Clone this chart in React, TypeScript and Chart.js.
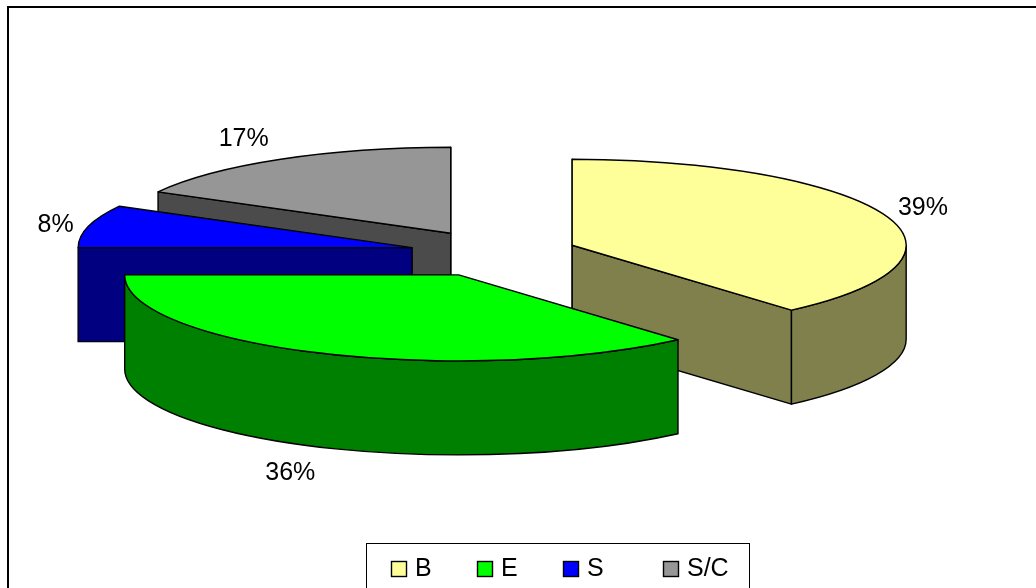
import React, { useEffect, useRef } from "react";
import { Chart, PieController, ArcElement } from "chart.js";

const categories = ["B", "E", "S", "S/C"];
const shares = [38.6, 36.4, 8, 17];
const topColors = ["#FFFF99", "#00FF00", "#0000FF", "#969696"];
const sideColors = ["#80804D", "#008000", "#000080", "#4B4B4B"];
// Painter's order, back to front.
const drawOrder = [3, 2, 0, 1];

const RX = 334;
const RY = 86;
const DEPTH = 94;
const EXPLODE_X = 84;
const EXPLODE_Y = 23.5;
const LABEL_NUDGE = [[38, -7], [-30, 26], [-33, -1], [-37, -20]];
const LEGEND_X = [391, 477, 563, 663];

class Pie3DController extends PieController {
  static id = "pie3d";
  static defaults = PieController.defaults;
  static overrides = PieController.overrides;
  draw() {
    const chart = this.chart;
    const ctx: CanvasRenderingContext2D = chart.ctx;
    const arcs: any[] = this._cachedMeta.data as any[];
    const total = shares.reduce((a, b) => a + b, 0);
    ctx.save();
    ctx.lineWidth = 1.4;
    ctx.strokeStyle = "#000000";
    ctx.lineJoin = "round";
    for (const i of drawOrder) {
      const arc = arcs[i];
      const mid = (arc.startAngle + arc.endAngle) / 2;
      const cx = arc.x + Math.cos(mid) * EXPLODE_X;
      const cy = arc.y + Math.sin(mid) * EXPLODE_Y;
      const px = (a: number) => cx + Math.cos(a) * RX;
      const py = (a: number) => cy + Math.sin(a) * RY;
      const side = sideColors[i];

      const wall = (a: number) => {
        ctx.beginPath();
        ctx.moveTo(cx, cy);
        ctx.lineTo(px(a), py(a));
        ctx.lineTo(px(a), py(a) + DEPTH);
        ctx.lineTo(cx, cy + DEPTH);
        ctx.closePath();
        ctx.fillStyle = side;
        ctx.fill();
        ctx.stroke();
      };
      // Only the cut faces that look towards the viewer are drawn.
      if (Math.cos(arc.startAngle) < 1e-6) wall(arc.startAngle);
      if (Math.cos(arc.endAngle) > -1e-6) wall(arc.endAngle);

      // Outer rim: only the part of the arc facing the viewer (sin > 0).
      const from = Math.max(arc.startAngle, 0);
      const to = Math.min(arc.endAngle, Math.PI);
      if (to > from) {
        ctx.beginPath();
        ctx.ellipse(cx, cy, RX, RY, 0, from, to);
        ctx.lineTo(px(to), py(to) + DEPTH);
        ctx.ellipse(cx, cy + DEPTH, RX, RY, 0, to, from, true);
        ctx.closePath();
        ctx.fillStyle = side;
        ctx.fill();
        ctx.stroke();
      }

      ctx.beginPath();
      ctx.moveTo(cx, cy);
      ctx.ellipse(cx, cy, RX, RY, 0, arc.startAngle, arc.endAngle);
      ctx.closePath();
      ctx.fillStyle = topColors[i];
      ctx.fill();
      ctx.stroke();

      // Percentage label
      const depthOff = Math.sin(mid) > 0 ? DEPTH : 0;
      ctx.fillStyle = "#000000";
      ctx.font = '25px "Liberation Sans"';
      ctx.textAlign = "center";
      ctx.textBaseline = "middle";
      ctx.fillText(
        Math.round((shares[i] / total) * 100) + "%",
        px(mid) + LABEL_NUDGE[i][0],
        py(mid) + depthOff + LABEL_NUDGE[i][1]
      );
    }
    ctx.restore();
  }
}

const framePlugin = {
  id: "frame",
  beforeDraw(chart: any) {
    const { ctx, width, height } = chart;
    ctx.save();
    ctx.strokeStyle = "#000000";
    ctx.lineWidth = 2;
    ctx.strokeRect(8, 7, width + 20, height + 20);
    ctx.restore();
  },
  afterDraw(chart: any) {
    const ctx: CanvasRenderingContext2D = chart.ctx;
    ctx.save();
    ctx.strokeStyle = "#000000";
    ctx.lineWidth = 1;
    ctx.fillStyle = "#FFFFFF";
    ctx.fillRect(366.5, 543.5, 383, 80);
    ctx.strokeRect(366.5, 543.5, 383, 80);
    ctx.font = '25px "Liberation Sans"';
    ctx.textAlign = "left";
    ctx.textBaseline = "alphabetic";
    categories.forEach((name, i) => {
      const x = LEGEND_X[i];
      ctx.fillStyle = topColors[i];
      ctx.fillRect(x + 0.5, 561.5, 15, 15);
      ctx.lineWidth = 1.4;
      ctx.strokeRect(x + 0.5, 561.5, 15, 15);
      ctx.fillStyle = "#000000";
      ctx.fillText(name, x + 24, 576);
    });
    ctx.restore();
  },
};

Chart.register(Pie3DController, PieController, ArcElement);

export default function App() {
  const ref = useRef<HTMLCanvasElement>(null);
  useEffect(() => {
    const chart = new Chart(ref.current as HTMLCanvasElement, {
      type: "pie3d" as any,
      data: {
        labels: categories,
        datasets: [
          {
            data: shares,
            backgroundColor: topColors,
            borderColor: "#000000",
            borderWidth: 1,
          },
        ],
      },
      options: {
        responsive: false,
        animation: false,
        // Puts the pie centre (chart area centre) where the reference has it.
        layout: { padding: { left: 0, right: 49, top: 0, bottom: 81 } },
        plugins: {
          tooltip: { enabled: false },
          legend: { display: false },
        },
      } as any,
      plugins: [framePlugin],
    });
    return () => chart.destroy();
  }, []);
  return (
    <canvas
      ref={ref}
      width={1036}
      height={588}
      style={{ position: "fixed", left: 0, top: 0, display: "block" }}
    />
  );
}
